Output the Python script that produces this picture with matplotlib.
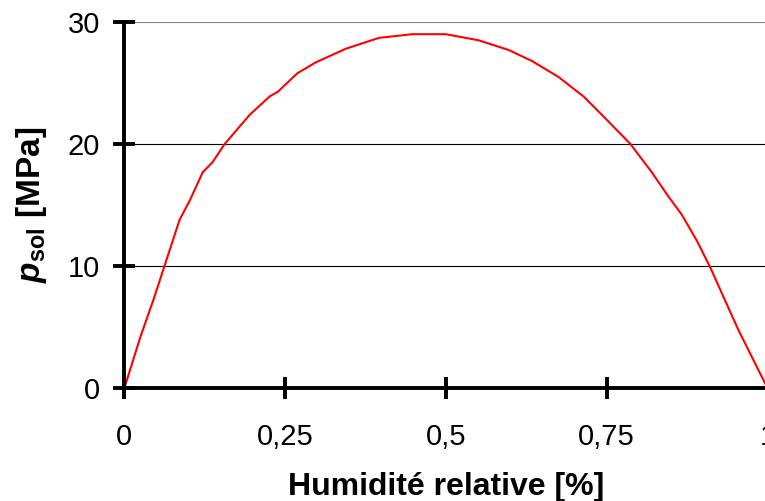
import numpy as np
import matplotlib
matplotlib.use('Agg')
import matplotlib.pyplot as plt

matplotlib.rcParams.update({
    'font.family': ['Liberation Sans', 'DejaVu Sans'],
    'mathtext.fontset': 'custom',
    'mathtext.rm': 'Liberation Sans',
    'mathtext.bf': 'Liberation Sans:bold',
    'mathtext.bfit': 'Liberation Sans:italic:bold',
})

# relative humidity (fraction) vs soil pressure (MPa)
HUM = [0.0, 0.025, 0.045, 0.063, 0.086, 0.102, 0.122, 0.137, 0.156, 0.195,
       0.226, 0.239, 0.269, 0.298, 0.344, 0.396, 0.448, 0.5, 0.551, 0.598,
       0.634, 0.675, 0.714, 0.748, 0.787, 0.820, 0.846, 0.867, 0.890, 0.911,
       0.934, 0.955, 1.0]
P_SOL = [0.0, 4.2, 7.2, 10.1, 13.8, 15.4, 17.7, 18.5, 20.0, 22.4,
         23.9, 24.3, 25.8, 26.7, 27.8, 28.7, 29.0, 29.0, 28.5, 27.7,
         26.8, 25.5, 23.9, 22.1, 20.0, 17.7, 15.7, 14.2, 12.1, 9.9,
         7.2, 4.75, 0.0]

X_TICKS = [0, 0.25, 0.5, 0.75, 1]
X_TICKLABELS = ['0', '0,25', '0,5', '0,75', '1']
Y_TICKS = [0, 10, 20, 30]

fig = plt.figure(figsize=(7.65, 5.01), dpi=100)
ax = fig.add_axes([0.1625, 0.2250, 0.8408, 0.7311])

ax.plot(HUM, P_SOL, color='red', lw=1.5, zorder=3)

ax.set_xlim(0, 1)
ax.set_ylim(0, 30)
ax.set_xticks(X_TICKS)
ax.set_xticklabels(X_TICKLABELS)
ax.set_yticks(Y_TICKS)

ax.grid(axis='y', color='black', lw=0.8)
ax.get_ygridlines()[-1].set_color('#808080')
ax.get_ygridlines()[0].set_visible(False)

for s in ['top', 'right']:
    ax.spines[s].set_visible(False)
for s in ['left', 'bottom']:
    ax.spines[s].set_linewidth(2.8)
    ax.spines[s].set_zorder(4)

ax.tick_params(axis='both', direction='inout', length=16.5, width=2.8,
               labelsize=21)
ax.tick_params(axis='y', pad=9)
ax.tick_params(axis='x', pad=17)

ax.set_xlabel('Humidité relative [%]', fontsize=23, fontweight='bold',
              labelpad=15)
ax.set_ylabel(r'$\mathbfit{p}_{\mathbf{sol}}$ [MPa]', fontsize=24,
              fontweight='bold', labelpad=14)

plt.savefig('out.png', dpi=100)
plt.close()
